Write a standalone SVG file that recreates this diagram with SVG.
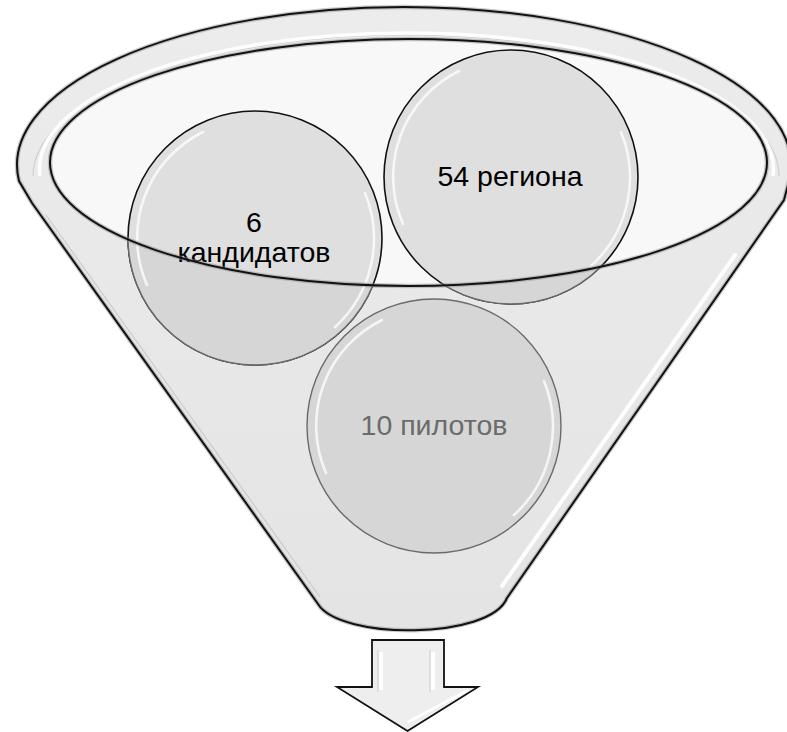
<svg xmlns="http://www.w3.org/2000/svg" xmlns:xlink="http://www.w3.org/1999/xlink" width="787" height="732" viewBox="0 0 787 732">
<style>
.ball{fill:#dfdfdf;stroke:#111;stroke-width:1.6}
.ball-under{fill:#d6d6d6;stroke:#6a6a6a;stroke-width:1.4}
.gloss{fill:none;stroke:#ffffff;stroke-width:2.6;stroke-linecap:round;opacity:0.75}
.lbl{font-family:"Liberation Sans",Arial,sans-serif;font-size:28.5px;text-anchor:middle;fill:#000}
.edge{fill:none;stroke:#111;stroke-width:2}
.edge-soft{fill:none;stroke:#8a8a8a;stroke-width:4.5;opacity:0.45}
</style>
<defs>
<clipPath id="below">
<path clip-rule="evenodd" d="M0,0H787V732H0Z M50,162.5 A358.5,123.5 0 1 0 767,162.5 A358.5,123.5 0 1 0 50,162.5Z"/>
</clipPath>
<path id="gloss" class="gloss" d="M-108,47 A118,118 0 0 1 -52,-106 M110,-45 A120,120 0 0 1 80,89"/>
<linearGradient id="bodyGrad" x1="0" y1="0" x2="0" y2="1">
<stop offset="0" stop-color="#ececec"/>
<stop offset="1" stop-color="#e4e4e4"/>
</linearGradient>
</defs>
<rect width="787" height="732" fill="#ffffff"/>

<g id="funnel-back">
<path d="M19,181 A387,158 0 1 1 789,181 L784,200 L507,598 C490,640 340,640 318,604 L32,203 Z" fill="url(#bodyGrad)"/>
<path d="M33,176 A373,141 0 1 1 779,176" fill="none" stroke="#cfcfcf" stroke-width="1.2"/>
<path d="M40,176 A367,136 0 1 1 773,176" fill="none" stroke="#ffffff" stroke-width="3.5" opacity="0.9"/>
<ellipse cx="408.5" cy="162.5" rx="358.5" ry="123.5" fill="#f8f8f8"/>
<path d="M735,255 L502,586" fill="none" stroke="#ffffff" stroke-width="4" stroke-linecap="round" opacity="0.9"/>
<path d="M46,215 L320,597" fill="none" stroke="#c4c4c4" stroke-width="1.2" opacity="0.8"/>
</g>

<g id="node-candidates">
<circle class="ball" cx="255" cy="238" r="127"/>
<circle class="ball-under" cx="255" cy="238" r="127" clip-path="url(#below)"/>
<use xlink:href="#gloss" href="#gloss" x="255" y="238"/>
<text class="lbl" x="254" y="232">6<tspan x="254" dy="30">кандидатов</tspan></text>
</g>

<g id="node-regions">
<circle class="ball" cx="511" cy="177" r="127"/>
<circle class="ball-under" cx="511" cy="177" r="127" clip-path="url(#below)"/>
<use xlink:href="#gloss" href="#gloss" x="511" y="177"/>
<text class="lbl" x="510" y="186">54 региона</text>
</g>

<g id="node-pilots">
<circle class="ball-under" cx="434" cy="426" r="127"/>
<use xlink:href="#gloss" href="#gloss" x="434" y="426"/>
<text class="lbl" x="434" y="435" style="fill:#6b6b6b">10 пилотов</text>
</g>

<g id="funnel-front">
<ellipse class="edge-soft" cx="408.5" cy="162.5" rx="358.5" ry="123.5"/>
<ellipse class="edge" cx="408.5" cy="162.5" rx="358.5" ry="123.5"/>
<path class="edge-soft" d="M19,181 A387,158 0 1 1 789,181 L784,200 L507,598 C490,640 340,640 318,604 L32,203 Z"/>
<path class="edge" d="M19,181 A387,158 0 1 1 789,181 L784,200 L507,598 C490,640 340,640 318,604 L32,203 Z"/>
</g>

<g id="connectors">
<g id="arrow-down">
<path d="M372,640 H444 V687 H478 L407.5,731 L337,687 H372 Z" fill="#eeeeee" stroke="#111" stroke-width="1.8" stroke-linejoin="miter"/>
<path d="M381,652 V690 M433,652 V690" stroke="#ffffff" stroke-width="4" fill="none"/>
<path d="M378,650 V692 M430,650 V692" stroke="#cfcfcf" stroke-width="1" fill="none"/>
<path d="M408,722 L468,690" stroke="#ffffff" stroke-width="3" fill="none" opacity="0.9"/>
</g>
</g>
</svg>
